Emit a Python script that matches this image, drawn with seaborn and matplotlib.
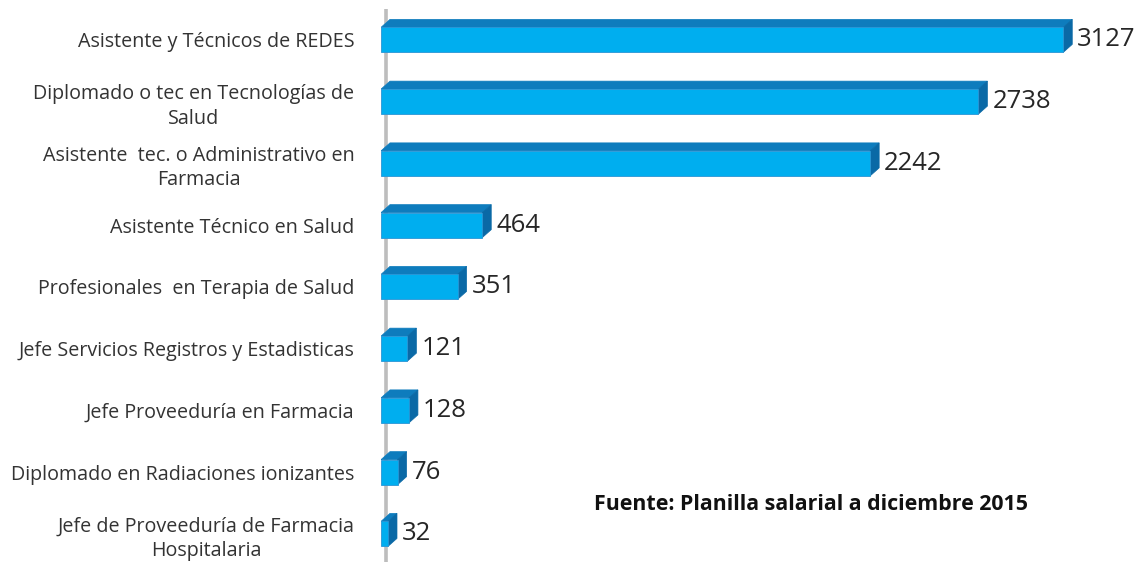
import matplotlib
matplotlib.use("Agg")
import matplotlib.pyplot as plt
from matplotlib.patches import Polygon
import seaborn as sns

# datos
categorias = ["Asistente y Técnicos de REDES",
              "Diplomado o tec en Tecnologías de\nSalud",
              "Asistente  tec. o Administrativo en\nFarmacia",
              "Asistente Técnico en Salud",
              "Profesionales  en Terapia de Salud",
              "Jefe Servicios Registros y Estadisticas",
              "Jefe Proveeduría en Farmacia",
              "Diplomado en Radiaciones ionizantes",
              "Jefe de Proveeduría de Farmacia\nHospitalaria"]
valores = [3127, 2738, 2242, 464, 351, 121, 128, 76, 32]
fuente = "Fuente: Planilla salarial a diciembre 2015"

sns.set_style("white")
plt.rcParams['font.family'] = ['Open Sans', 'DejaVu Sans']

W, H = 1138, 562
fig = plt.figure(figsize=(W / 100, H / 100), dpi=100)
ax = fig.add_axes([381 / W, 0, 720 / W, 553 / H])

frente = "#00AEEF"
arriba = "#0E7CBD"
lado = "#0A69A6"

sns.barplot(x=valores, y=categorias, orient="h", color=frente, saturation=1,
            width=0.405, ax=ax, edgecolor="#2A95D5", linewidth=0.6, zorder=3)

ax.set_xlim(0, 3300)
ax.set_ylim(8.455, -0.5)
sns.despine(ax=ax, left=True, bottom=True)
ax.set_xticks([])
ax.set_xlabel("")
ax.set_ylabel("")
ax.tick_params(axis="y", length=0, pad=19, labelsize=14.2, labelcolor="#333333")
for t in ax.get_yticklabels():
    t.set_multialignment("center")
    t.set_linespacing(1.3)

# profundidad 3D en pixeles -> unidades de datos
inv = ax.transData.inverted()
p0 = inv.transform(ax.transData.transform((0, 0)))
p1 = inv.transform(ax.transData.transform((0, 0)) + [9, 8])
dx = p1[0] - p0[0]
dy = p1[1] - p0[1]

ax.axvline(dx * 0.6, color="#BDBDBD", lw=2.6, zorder=1)

for r in list(ax.patches):
    x0 = r.get_x()
    x1 = x0 + r.get_width()
    ya = r.get_y()
    yb = ya + r.get_height()
    ytop = min(ya, yb)
    ybot = max(ya, yb)
    top = Polygon([(x0, ytop), (x1, ytop), (x1 + dx, ytop + dy), (x0 + dx, ytop + dy)],
                  closed=True, facecolor=arriba, edgecolor=arriba, lw=0.5, zorder=2)
    side = Polygon([(x1, ytop), (x1 + dx, ytop + dy), (x1 + dx, ybot + dy), (x1, ybot)],
                   closed=True, facecolor=lado, edgecolor=lado, lw=0.5, zorder=2)
    ax.add_patch(top)
    ax.add_patch(side)

ax.bar_label(ax.containers[0], padding=10, fontsize=18.5, color="#262626")

fig.text(811 / W, 1 - 505 / H, fuente, ha="center", va="center",
         fontsize=15.4, fontweight="bold", color="#111111")

fig.savefig("out.png", dpi=100)
